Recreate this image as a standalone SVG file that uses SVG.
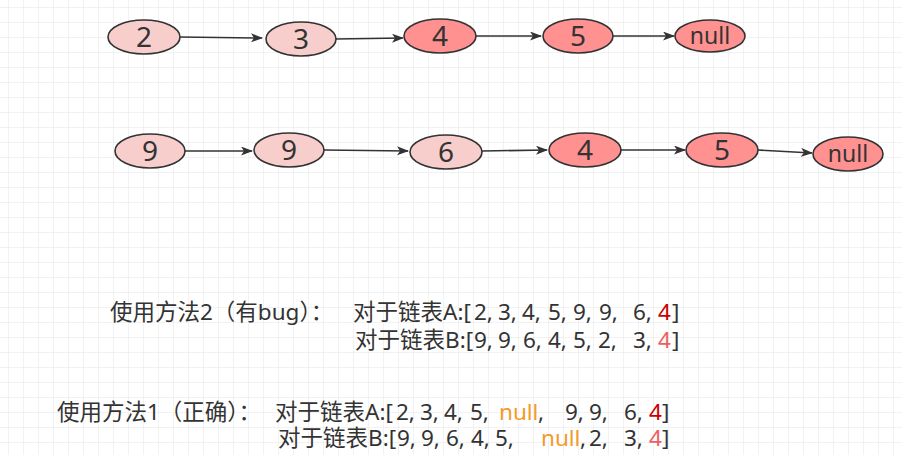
<svg xmlns="http://www.w3.org/2000/svg" width="902" height="455" viewBox="0 0 902 455">
<defs>
<pattern id="grid" x="8" y="7" width="15" height="15" patternUnits="userSpaceOnUse">
<path d="M0,0 H15 M0,0 V15" fill="none" stroke="#e6e6e6" stroke-width="1"/>
</pattern>
<marker id="arr" markerWidth="12" markerHeight="10" refX="11" refY="4.5" orient="auto" markerUnits="userSpaceOnUse">
<path d="M0,0 L12,4.5 L0,9 L3,4.5 z" fill="#333"/>
</marker>
<style>
.light{fill:#f8cecc;stroke:#333;stroke-width:1.6}
.dark{fill:#ff9191;stroke:#333;stroke-width:1.6}
.num{font-family:'Noto Sans','Liberation Sans',sans-serif;font-size:28px;fill:#333;text-anchor:middle}
.nul{font-family:'Noto Sans','Liberation Sans',sans-serif;font-size:23px;fill:#333;text-anchor:middle}
.edge{stroke:#333;stroke-width:1.6;fill:none;marker-end:url(#arr)}
.t{font-family:'Noto Sans','Noto Sans CJK SC',sans-serif;font-size:22.5px;fill:#333}
.r1{fill:#cc0000}
.r2{fill:#ee5f5f}
.or{fill:#f39a2a}
</style>
</defs>
<rect width="902" height="455" fill="#ffffff"/>
<rect width="902" height="455" fill="url(#grid)"/>

<g id="edges">
<line class="edge" x1="180" y1="37" x2="262" y2="38"/>
<line class="edge" x1="336" y1="39" x2="403" y2="38"/>
<line class="edge" x1="476" y1="36" x2="541" y2="36"/>
<line class="edge" x1="613" y1="36" x2="674" y2="36"/>
<line class="edge" x1="185" y1="151" x2="252" y2="151"/>
<line class="edge" x1="324" y1="150" x2="408" y2="151"/>
<line class="edge" x1="482" y1="151" x2="547" y2="150"/>
<line class="edge" x1="620" y1="150" x2="685" y2="150"/>
<line class="edge" x1="758" y1="150" x2="812" y2="153"/>
</g>

<g id="a2"><ellipse class="light" cx="144" cy="37" rx="36" ry="17"/><text class="num" x="144" y="47">2</text></g>
<g id="a3"><ellipse class="light" cx="301" cy="39" rx="35" ry="17"/><text class="num" x="301" y="49">3</text></g>
<g id="a4"><ellipse class="dark" cx="440" cy="36" rx="36" ry="17"/><text class="num" x="440" y="46">4</text></g>
<g id="a5"><ellipse class="dark" cx="578" cy="36" rx="35" ry="17"/><text class="num" x="578" y="46">5</text></g>
<g id="anull"><ellipse class="dark" cx="710" cy="36" rx="35" ry="16"/><text class="nul" x="710" y="44">null</text></g>

<g id="b9a"><ellipse class="light" cx="150" cy="151" rx="35" ry="17"/><text class="num" x="150" y="161">9</text></g>
<g id="b9b"><ellipse class="light" cx="289" cy="150" rx="35" ry="17"/><text class="num" x="289" y="160">9</text></g>
<g id="b6"><ellipse class="light" cx="446" cy="152" rx="36" ry="17"/><text class="num" x="446" y="162">6</text></g>
<g id="b4"><ellipse class="dark" cx="585" cy="150" rx="36" ry="17"/><text class="num" x="585" y="160">4</text></g>
<g id="b5"><ellipse class="dark" cx="722" cy="150" rx="36" ry="17"/><text class="num" x="722" y="160">5</text></g>
<g id="bnull"><ellipse class="dark" cx="848" cy="154" rx="35" ry="17"/><text class="nul" x="848" y="162">null</text></g>

<g id="text1">
<text class="t" y="320"><tspan x="110">使用方法2（有bug）：</tspan><tspan x="353">对于链表A:[</tspan><tspan x="474">2,</tspan><tspan x="498">3,</tspan><tspan x="522">4,</tspan><tspan x="548">5,</tspan><tspan x="573">9,</tspan><tspan x="599">9,</tspan><tspan x="633">6,</tspan><tspan x="658" class="r1">4</tspan><tspan x="672">]</tspan></text>
<text class="t" y="348"><tspan x="355">对于链表B:[</tspan><tspan x="474">9,</tspan><tspan x="498">9,</tspan><tspan x="523">6,</tspan><tspan x="548">4,</tspan><tspan x="573">5,</tspan><tspan x="598">2,</tspan><tspan x="633">3,</tspan><tspan x="658" class="r2">4</tspan><tspan x="672">]</tspan></text>
</g>
<g id="text2">
<text class="t" y="420"><tspan x="57">使用方法1（正确）：</tspan><tspan x="275">对于链表A:[</tspan><tspan x="396">2,</tspan><tspan x="420">3,</tspan><tspan x="444">4,</tspan><tspan x="470">5,</tspan><tspan x="499" class="or">null</tspan><tspan x="538">,</tspan><tspan x="565">9,</tspan><tspan x="589">9,</tspan><tspan x="624">6,</tspan><tspan x="649" class="r1">4</tspan><tspan x="662">]</tspan></text>
<text class="t" y="446"><tspan x="278">对于链表B:[</tspan><tspan x="397">9,</tspan><tspan x="421">9,</tspan><tspan x="446">6,</tspan><tspan x="471">4,</tspan><tspan x="495">5,</tspan><tspan x="541" class="or">null</tspan><tspan x="580">,</tspan><tspan x="589">2,</tspan><tspan x="624">3,</tspan><tspan x="649" class="r2">4</tspan><tspan x="662">]</tspan></text>
</g>
</svg>
